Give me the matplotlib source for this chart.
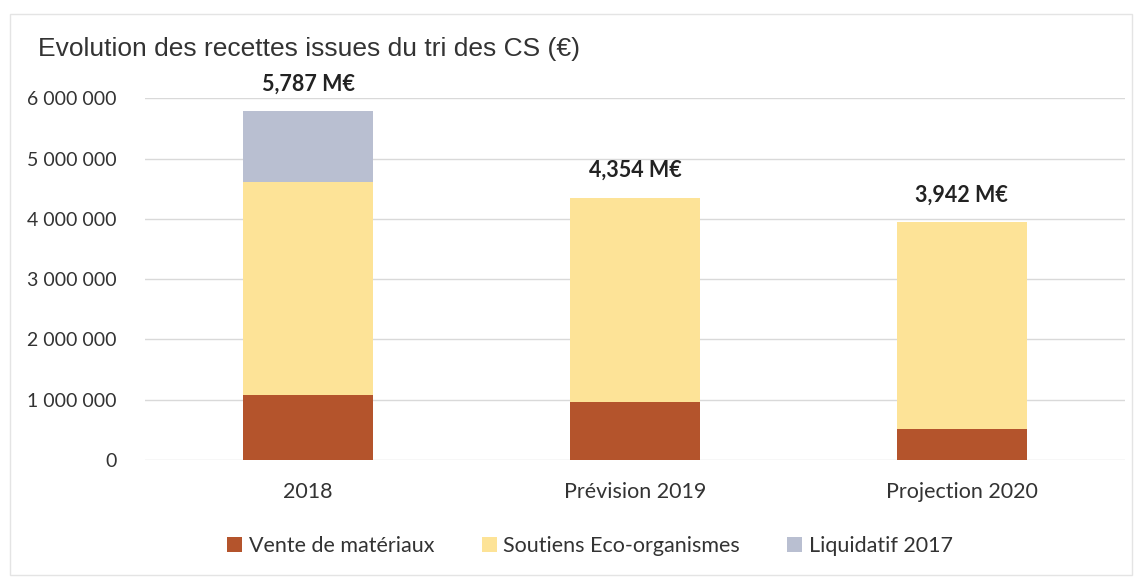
import numpy as np
import matplotlib
matplotlib.use("Agg")
import matplotlib.pyplot as plt
from matplotlib.patches import Rectangle
from matplotlib.ticker import FuncFormatter

# data
categories = ["2018", "Prévision 2019", "Projection 2020"]
vente = [1080000, 960000, 510000]
soutiens = [3530000, 3394000, 3432000]
liquidatif = [1177000, 0, 0]
totals_label = ["5,787 M€", "4,354 M€", "3,942 M€"]

series_names = ["Vente de matériaux", "Soutiens Eco-organismes", "Liquidatif 2017"]
colors = ["#b4542c", "#fde397", "#b9bfd1"]

fig = plt.figure(figsize=(11.39, 5.78), dpi=100)
ax = fig.add_axes([0.127, 0.204, 0.861, 0.626])

# faint frame of the scanned chart box
fig.patches.append(Rectangle((0.009, 0.005), 0.985, 0.97, transform=fig.transFigure,
                             fill=False, edgecolor="#e4e4e4", linewidth=1.0))

x = np.arange(len(categories))
w = 0.4
b1 = ax.bar(x, vente, w, color=colors[0], label=series_names[0], zorder=3)
b2 = ax.bar(x, soutiens, w, bottom=vente, color=colors[1], label=series_names[1], zorder=3)
base = np.array(vente) + np.array(soutiens)
b3 = ax.bar(x, liquidatif, w, bottom=base, color=colors[2], label=series_names[2], zorder=3)

totals = base + np.array(liquidatif)
for xi, t, lab in zip(x, totals, totals_label):
    ax.annotate(lab, (xi, t), xytext=(0, 12), textcoords="offset points",
                ha="center", va="bottom", fontsize=15.5, fontweight="bold",
                family="Lato", color="#222222")

ax.set_xlim(-0.5, 2.5)
ax.set_ylim(0, 6000000)
ax.set_yticks(np.arange(0, 6000001, 1000000))
ax.yaxis.set_major_formatter(FuncFormatter(lambda v, p: f"{int(v):,}".replace(",", " ")))
ax.set_xticks(x)
ax.set_xticklabels(categories)
ax.grid(axis="y", color="#d9d9d9", linewidth=1, zorder=0)
for s in ax.spines.values():
    s.set_visible(False)
ax.tick_params(length=0, labelcolor="#333333")
ax.tick_params(axis="y", pad=20, labelsize=14)
ax.tick_params(axis="x", pad=16, labelsize=15.5)
for t in ax.get_xticklabels() + ax.get_yticklabels():
    t.set_family("Lato")

fig.text(0.033, 0.915, "Evolution des recettes issues du tri des CS (€)",
         fontsize=19, family="Liberation Sans", color="#333333", va="center")

leg = fig.legend(handles=[b1, b2, b3], loc="center", bbox_to_anchor=(0.518, 0.055),
                 ncol=3, frameon=False, handlelength=0.7, handleheight=0.7,
                 handletextpad=0.3, columnspacing=2.2,
                 prop={"family": "Lato", "size": 15.5})
for t in leg.get_texts():
    t.set_color("#333333")

fig.savefig("out.png", dpi=100, facecolor="white")
